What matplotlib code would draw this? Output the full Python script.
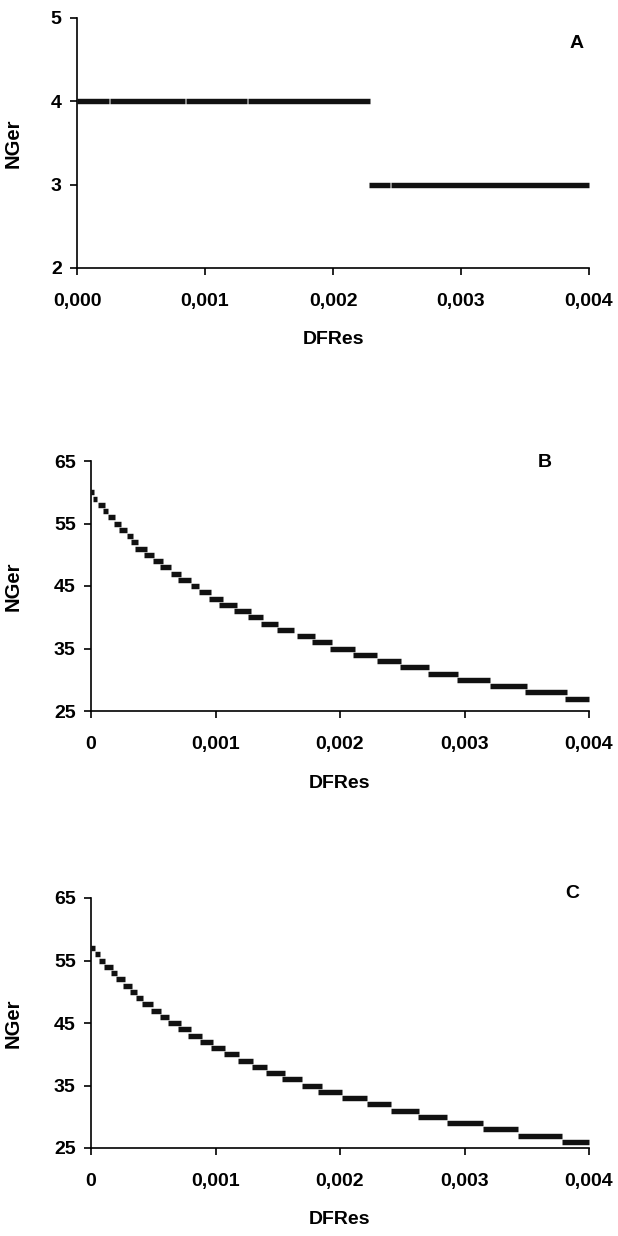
import numpy as np
import matplotlib
matplotlib.use('Agg')
import matplotlib.pyplot as plt

plt.rcParams['font.family'] = ['Liberation Sans', 'DejaVu Sans']
plt.rcParams['font.weight'] = 'bold'

# DFRes values are given in units of 1e-3; each run of points is (NGer, start, end)

# panel A
a_nger = [4, 4, 4, 4, 3, 3]
a_start = [0.000, 0.255, 0.850, 1.335, 2.280, 2.450]
a_end = [0.250, 0.845, 1.330, 2.290, 2.445, 4.000]

# panel B
b_nger = [60, 59, 58, 57, 56, 55, 54, 53, 52, 51, 50, 49, 48, 47, 46, 45, 44,
          43, 42, 41, 40, 39, 38, 37, 36, 35, 34, 33, 32, 31, 30, 29, 28, 27]
b_start = [0.000, 0.016, 0.056, 0.096, 0.137, 0.185, 0.225, 0.289, 0.321, 0.353,
           0.426, 0.498, 0.554, 0.643, 0.699, 0.803, 0.867, 0.948, 1.028, 1.149,
           1.261, 1.365, 1.494, 1.655, 1.775, 1.920, 2.104, 2.297, 2.482, 2.707,
           2.940, 3.205, 3.486, 3.807]
b_end = [0.024, 0.048, 0.112, 0.137, 0.193, 0.241, 0.289, 0.337, 0.378, 0.450,
         0.506, 0.578, 0.643, 0.723, 0.803, 0.867, 0.964, 1.060, 1.173, 1.285,
         1.382, 1.502, 1.631, 1.799, 1.936, 2.120, 2.297, 2.490, 2.715, 2.948,
         3.205, 3.502, 3.823, 4.000]

# panel C
c_nger = [57, 56, 55, 54, 53, 52, 51, 50, 49, 48, 47, 46, 45, 44, 43, 42, 41,
          40, 39, 38, 37, 36, 35, 34, 33, 32, 31, 30, 29, 28, 27, 26]
c_start = [0.000, 0.036, 0.064, 0.104, 0.161, 0.201, 0.257, 0.313, 0.361, 0.410,
           0.482, 0.554, 0.618, 0.699, 0.779, 0.876, 0.964, 1.068, 1.181, 1.293,
           1.406, 1.534, 1.695, 1.823, 2.016, 2.217, 2.410, 2.627, 2.859, 3.149,
           3.430, 3.780]
c_end = [0.032, 0.072, 0.112, 0.177, 0.209, 0.273, 0.329, 0.369, 0.418, 0.498,
         0.562, 0.627, 0.723, 0.803, 0.892, 0.980, 1.076, 1.189, 1.301, 1.414,
         1.558, 1.695, 1.855, 2.016, 2.217, 2.410, 2.635, 2.859, 3.149, 3.430,
         3.780, 4.000]

x_ticks = [0.000, 0.001, 0.002, 0.003, 0.004]
a_xlabels = ['0,000', '0,001', '0,002', '0,003', '0,004']
bc_xlabels = ['0', '0,001', '0,002', '0,003', '0,004']
a_yticks = [2, 3, 4, 5]
bc_yticks = [25, 35, 45, 55, 65]

W, H = 618, 1236
fig = plt.figure(figsize=(W / 100, H / 100), dpi=100)


def make_axes(left, top, right, bottom):
    return fig.add_axes([left / W, 1 - bottom / H, (right - left) / W, (bottom - top) / H])


panels = [
    (make_axes(77, 18, 589, 268), a_nger, a_start, a_end, a_yticks, a_xlabels, 'A', (0.975, 0.90)),
    (make_axes(91, 461, 589, 711), b_nger, b_start, b_end, bc_yticks, bc_xlabels, 'B', (0.912, 0.995)),
    (make_axes(91, 898, 589, 1148), c_nger, c_start, c_end, bc_yticks, bc_xlabels, 'C', (0.966, 1.016)),
]

for ax, nger, start, end, yticks, xlabels, letter, pos in panels:
    ax.hlines(nger, np.array(start) * 1e-3, np.array(end) * 1e-3,
              colors='#111111', linewidth=3.9, capstyle='butt', clip_on=False)
    ax.set_xlim(0, 0.004)
    ax.set_ylim(yticks[0], yticks[-1])
    ax.set_xticks(x_ticks)
    ax.set_xticklabels(xlabels)
    ax.set_yticks(yticks)
    for s in ['top', 'right']:
        ax.spines[s].set_visible(False)
    for s in ['left', 'bottom']:
        ax.spines[s].set_linewidth(1.2)
    ax.tick_params(direction='out', length=5, width=1.2, labelsize=14)
    ax.tick_params(axis='x', pad=13)
    ax.tick_params(axis='y', pad=6)
    ax.set_ylabel('NGer', fontsize=14.5, fontweight='bold')
    ax.yaxis.set_label_coords(-(ax.get_position().x0 * W - 23) / (ax.get_position().width * W), 0.5)
    ax.set_xlabel('DFRes', fontsize=14, fontweight='bold', va='center')
    ax.xaxis.set_label_coords(0.5, -0.288)
    ax.text(pos[0], pos[1], letter, transform=ax.transAxes, ha='center', va='center',
            fontsize=14, fontweight='bold')

fig.savefig('out.png', dpi=100)
